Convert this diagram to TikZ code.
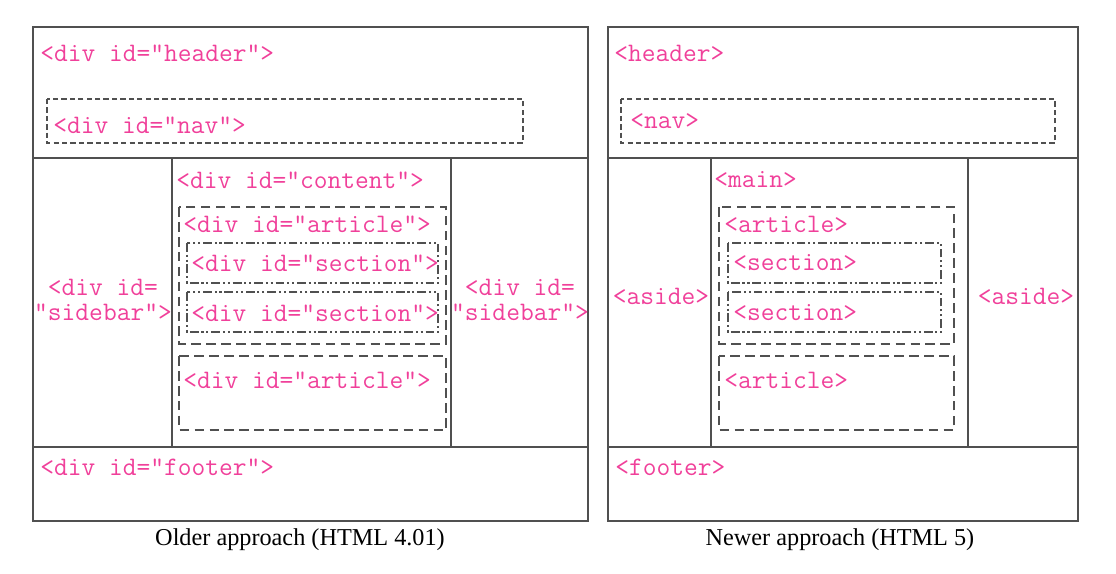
\documentclass[tikz,border=0pt]{standalone}
\usepackage{fontspec}
\setmainfont{Liberation Serif}
\definecolor{tagpink}{HTML}{F0409A}
\definecolor{boxgray}{HTML}{505050}
\tikzstyle{frame} = [draw=boxgray, line width=1.1pt]
\tikzstyle{navbox} = [draw=boxgray, line width=1.1pt, dash pattern=on 3pt off 1.8pt]
\tikzstyle{articlebox} = [draw=boxgray, line width=1.3pt, dash pattern=on 5.5pt off 3pt]
\tikzstyle{sectionbox} = [draw=boxgray, line width=1.3pt, dash pattern=on 5pt off 1.6pt on 1.2pt off 1.6pt on 1.2pt off 1.6pt]
\tikzstyle{tag} = [text=tagpink, font=\ttfamily\fontsize{15.2}{14.7}\selectfont, inner sep=0pt]
\tikzstyle{caption} = [font=\fontsize{13.8}{16}\selectfont, inner sep=0pt]

\begin{document}
\begin{tikzpicture}[x=0.02cm,y=-0.02cm]
    \useasboundingbox (0,0) rectangle (1116,574);

    % Older approach
    \draw[frame] (33,27) rectangle (588,521);
    \draw[frame] (33,158) -- (588,158);
    \draw[frame] (33,447) -- (588,447);
    \draw[frame] (172,158) -- (172,447);
    \draw[frame] (451,158) -- (451,447);
    \draw[navbox] (47,99) rectangle (523,143);
    \draw[articlebox] (179,207) rectangle (446,344);
    \draw[sectionbox] (187,243) rectangle (438,283);
    \draw[sectionbox] (187,292) rectangle (438,332);
    \draw[articlebox] (179,356) rectangle (446,430);

    \node[tag, anchor=west] (oldHeader) at (40,53) {<div id="header">};
    \node[tag, anchor=west] (oldNav) at (53,125) {<div id="nav">};
    \node[tag, anchor=west] (oldContent) at (176,180) {<div id="content">};
    \node[tag, anchor=west] (oldArticleA) at (183,224) {<div id="article">};
    \node[tag, anchor=west] (oldSectionA) at (191,263) {<div id="section">};
    \node[tag, anchor=west] (oldSectionB) at (191,313) {<div id="section">};
    \node[tag, anchor=west] (oldArticleB) at (183,380) {<div id="article">};
    \node[tag, align=center] (oldSideL) at (103,300) {<div id=\\"sidebar">};
    \node[tag, align=center] (oldSideR) at (520,300) {<div id=\\"sidebar">};
    \node[tag, anchor=west] (oldFooter) at (40,467) {<div id="footer">};
    \node[caption] (oldCaption) at (300,540) {Older approach (HTML 4.01)};

    % Newer approach
    \draw[frame] (608,27) rectangle (1078,521);
    \draw[frame] (608,158) -- (1078,158);
    \draw[frame] (608,447) -- (1078,447);
    \draw[frame] (711,158) -- (711,447);
    \draw[frame] (968,158) -- (968,447);
    \draw[navbox] (621,99) rectangle (1055,143);
    \draw[articlebox] (719,207) rectangle (954,344);
    \draw[sectionbox] (728,243) rectangle (941,283);
    \draw[sectionbox] (728,292) rectangle (941,332);
    \draw[articlebox] (719,356) rectangle (954,430);

    \node[tag, anchor=west] (newHeader) at (614,53) {<header>};
    \node[tag, anchor=west] (newNav) at (630,121) {<nav>};
    \node[tag, anchor=west] (newMain) at (714,180) {<main>};
    \node[tag, anchor=west] (newArticleA) at (724,224) {<article>};
    \node[tag, anchor=west] (newSectionA) at (733,263) {<section>};
    \node[tag, anchor=west] (newSectionB) at (733,313) {<section>};
    \node[tag, anchor=west] (newArticleB) at (724,380) {<article>};
    \node[tag] (newAsideL) at (661,296) {<aside>};
    \node[tag] (newAsideR) at (1026,296) {<aside>};
    \node[tag, anchor=west] (newFooter) at (615,467) {<footer>};
    \node[caption] (newCaption) at (840,540) {Newer approach (HTML 5)};

\end{tikzpicture}
\end{document}
